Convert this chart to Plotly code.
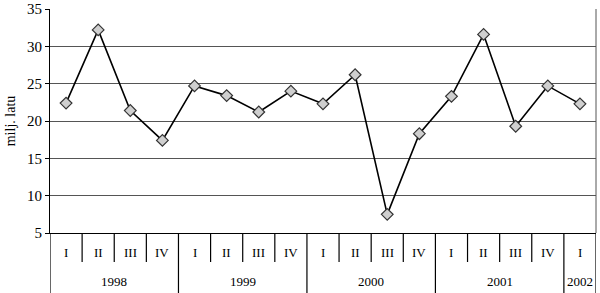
import plotly.graph_objects as go

years = ["1998", "1999", "2000", "2001", "2002"]
year_counts = [4, 4, 4, 4, 1]
quarters = ["I", "II", "III", "IV"]*4 + ["I"]
values = [22.4, 32.2, 21.4, 17.4, 24.7, 23.4, 21.2, 24.0, 22.3, 26.2, 7.5,
          18.3, 23.3, 31.6, 19.3, 24.7, 22.3]
y_ticks = [5, 10, 15, 20, 25, 30, 35]

font = "Liberation Serif"
n = len(values)
xs = list(range(n))

fig = go.Figure()
fig.add_trace(go.Scatter(
    x=xs, y=values, mode="lines+markers",
    line=dict(color="black", width=1.6),
    marker=dict(symbol="diamond", size=9, color="#cfcfcf",
                line=dict(color="#333333", width=1.2)),
    showlegend=False))

plot_h = 293 - 9 - 60
q_len = 29 / plot_h
y_len = 60 / plot_h

# quarter separators and year dividers
start = 0
year_bounds = [-0.5]
for c in year_counts:
    start += c
    year_bounds.append(start - 0.5)
for i in range(n + 1):
    b = i - 0.5
    y1 = -y_len if b in year_bounds else -q_len
    fig.add_shape(type="line", xref="x", yref="paper", x0=b, x1=b,
                  y0=0, y1=y1, line=dict(color="black", width=1.2))

# quarter labels
for i, q in enumerate(quarters):
    fig.add_annotation(x=i, xref="x", y=-19 / plot_h, yref="paper",
                       yanchor="middle", text=q, showarrow=False,
                       font=dict(family=font, size=13, color="black"))
# year labels
start = 0
for yname, c in zip(years, year_counts):
    center = start + (c - 1) / 2
    fig.add_annotation(x=center, xref="x", y=-48 / plot_h, yref="paper",
                       yanchor="middle", text=yname, showarrow=False,
                       font=dict(family=font, size=13, color="black"))
    start += c

fig.update_layout(
    width=600, height=293,
    margin=dict(l=50, r=4, t=9, b=60),
    paper_bgcolor="white", plot_bgcolor="white",
    font=dict(family=font, size=14, color="black"),
)
fig.update_yaxes(range=[5, 35], tickvals=y_ticks, showgrid=True,
                 gridcolor="#555555", gridwidth=1, showline=True,
                 linecolor="black", linewidth=1.2, ticks="outside",
                 ticklen=4, tickcolor="black", automargin=False,
                 tickfont=dict(family=font, size=15, color="black"),
                 title=dict(text="milj. latu", standoff=8,
                            font=dict(family=font, size=14, color="black")),
                 zeroline=False)
fig.update_xaxes(range=[-0.5, n - 0.5], showgrid=False, showline=True,
                 linecolor="black", linewidth=1.2, showticklabels=False,
                 ticks="", zeroline=False, automargin=False)
fig.add_shape(type="line", xref="paper", yref="paper", x0=1, x1=1, y0=0, y1=1,
              line=dict(color="#555555", width=1))
fig.write_html("out.html")
